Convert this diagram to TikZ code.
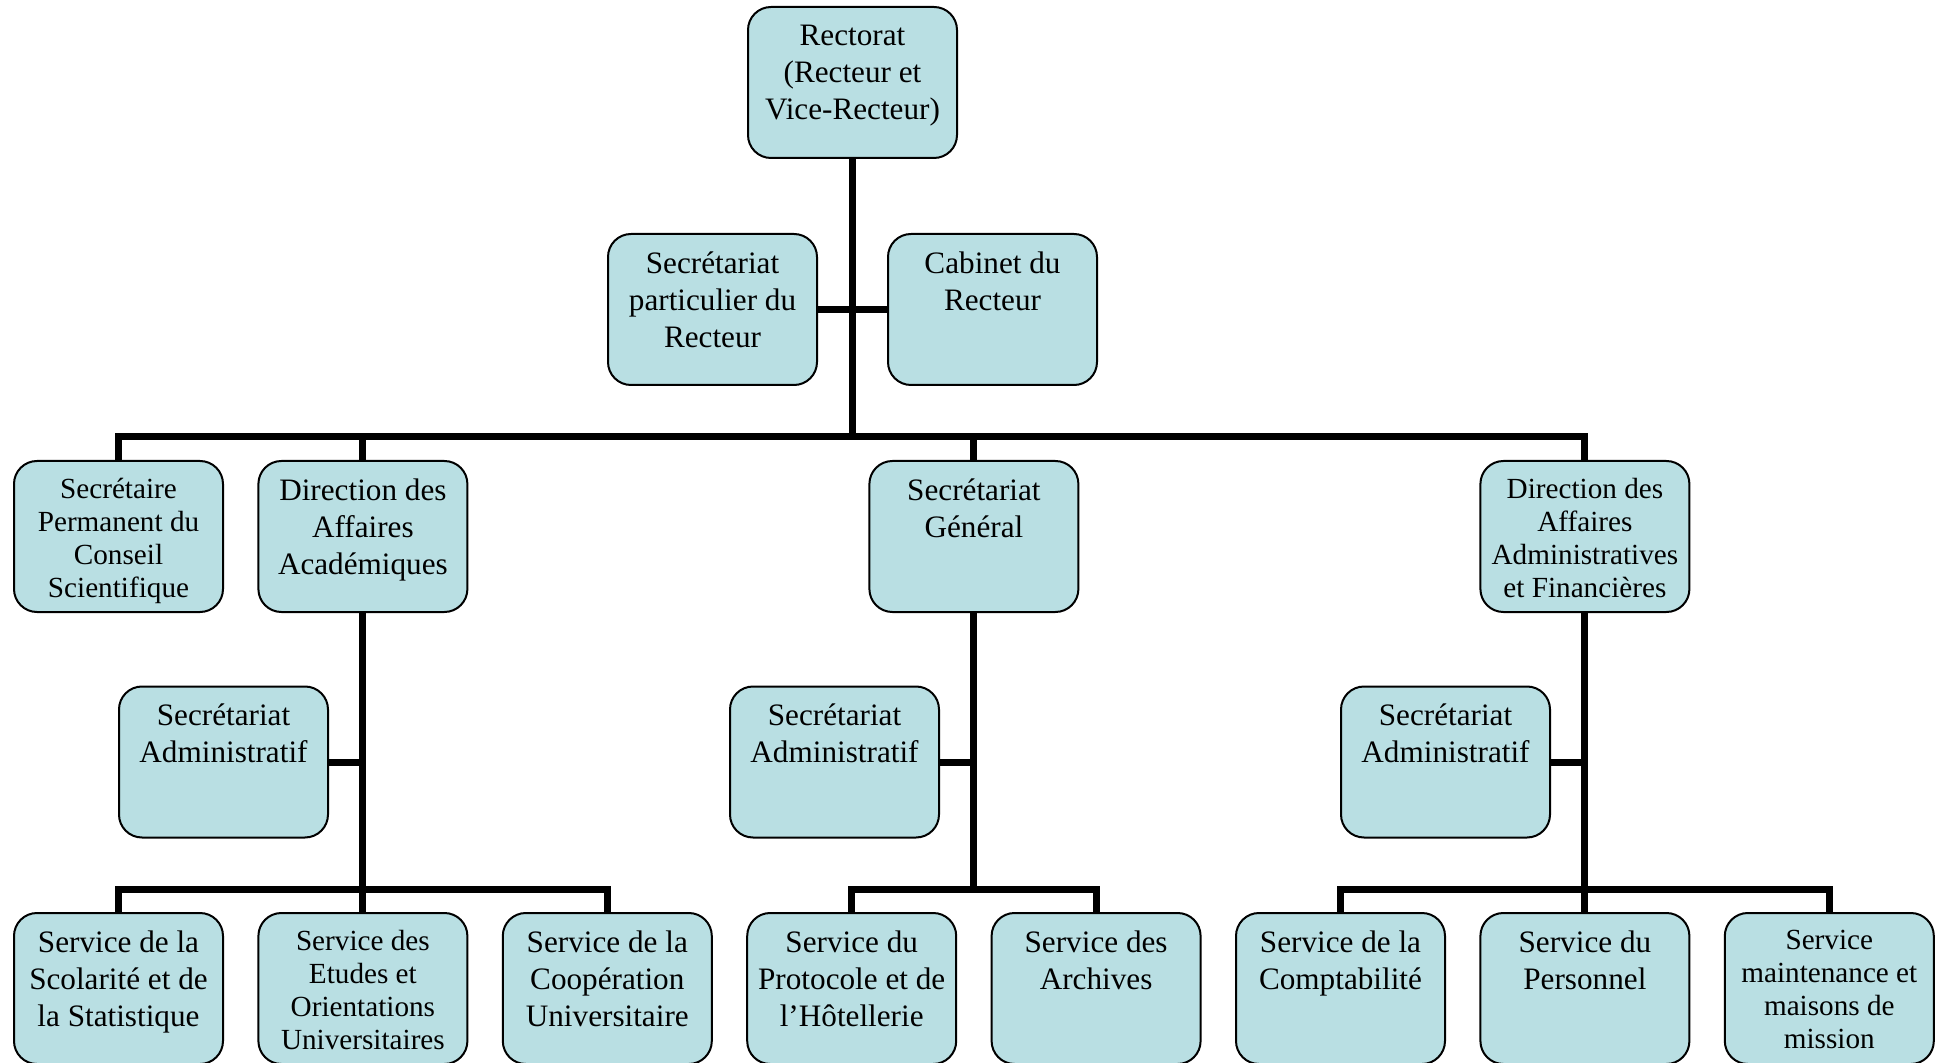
\documentclass[tikz,border=0pt]{standalone}
\usepackage{fontspec}
\setmainfont{Liberation Serif}
\usepackage{tikz}
\usetikzlibrary{positioning}
\definecolor{boxblue}{RGB}{185,223,227}

\begin{document}
\begin{tikzpicture}
    [
      x=0.5pt, y=-0.5pt,
      Unit/.style={rectangle, rounded corners=11.5pt, draw=black, fill=boxblue, line width=1pt, minimum width=104.5pt, minimum height=75.5pt, inner sep=0pt},
      Big/.style={align=center, inner sep=0pt, font=\fontsize{15.6}{18.5}\selectfont, execute at begin node=\strut},
      Small/.style={align=center, inner sep=0pt, font=\fontsize{14.6}{16.5}\selectfont, execute at begin node=\strut},
      Link/.style={draw=black, line width=3.5pt},
    ]
    \useasboundingbox (0,0) rectangle (1937,1063);

    % Boxes
    \node[Unit] (rect) at (852.5, 82.5) {};
    \node[Unit] (secp) at (712.5, 309.5) {};
    \node[Unit] (cab) at (992.5, 309.5) {};

    \node[Unit] (perm) at (118.5, 536.5) {};
    \node[Unit] (daa) at (362.9, 536.5) {};
    \node[Unit] (sg) at (973.9, 536.5) {};
    \node[Unit] (daaf) at (1584.9, 536.5) {};

    \node[Unit] (adm1) at (223.5, 762) {};
    \node[Unit] (adm2) at (834.5, 762) {};
    \node[Unit] (adm3) at (1445.5, 762) {};

    \node[Unit] (sco) at (118.5, 988.5) {};
    \node[Unit] (etu) at (362.9, 988.5) {};
    \node[Unit] (coop) at (607.3, 988.5) {};
    \node[Unit] (proto) at (851.7, 988.5) {};
    \node[Unit] (arch) at (1096.1, 988.5) {};
    \node[Unit] (compta) at (1340.5, 988.5) {};
    \node[Unit] (pers) at (1584.9, 988.5) {};
    \node[Unit] (maint) at (1829.3, 988.5) {};

    % Texts
    \node[Big, below=9.1pt of rect.north] (rect-t) {Rectorat\\(Recteur et\\Vice-Recteur)};
    \node[Big, below=9.1pt of secp.north] (secp-t) {Secrétariat\\particulier du\\Recteur};
    \node[Big, below=9.1pt of cab.north] (cab-t) {Cabinet du\\Recteur};

    \node[Small, below=9pt of perm.north] (perm-t) {Secrétaire\\Permanent du\\Conseil\\Scientifique};
    \node[Big, below=9.1pt of daa.north] (daa-t) {Direction des\\Affaires\\Académiques};
    \node[Big, below=9.1pt of sg.north] (sg-t) {Secrétariat\\Général};
    \node[Small, below=9pt of daaf.north] (daaf-t) {Direction des\\Affaires\\Administratives\\et Financières};

    \node[Big, below=9.1pt of adm1.north] (adm1-t) {Secrétariat\\Administratif};
    \node[Big, below=9.1pt of adm2.north] (adm2-t) {Secrétariat\\Administratif};
    \node[Big, below=9.1pt of adm3.north] (adm3-t) {Secrétariat\\Administratif};

    \node[Big, below=9.1pt of sco.north] (sco-t) {Service de la\\Scolarité et de\\la Statistique};
    \node[Small, below=9pt of etu.north] (etu-t) {Service des\\Etudes et\\Orientations\\Universitaires};
    \node[Big, below=9.1pt of coop.north] (coop-t) {Service de la\\Coopération\\Universitaire};
    \node[Big, below=9.1pt of proto.north] (proto-t) {Service du\\Protocole et de\\l’Hôtellerie};
    \node[Big, below=9.1pt of arch.north] (arch-t) {Service des\\Archives};
    \node[Big, below=9.1pt of compta.north] (compta-t) {Service de la\\Comptabilité};
    \node[Big, below=9.1pt of pers.north] (pers-t) {Service du\\Personnel};
    \node[Small, below=9pt of maint.north] (maint-t) {Service\\maintenance et\\maisons de\\mission};

    % Forks
    \coordinate (fork-top) at (852.5, 437);
    \coordinate (fork-daa) at (362.9, 889);
    \coordinate (fork-sg) at (973.9, 889);
    \coordinate (fork-daaf) at (1584.9, 889);

    % Lines
      \path[Link] (rect.south) -- (fork-top);
      \path[Link] (secp.east) -- (cab.west);
      \path[Link] (perm.north) |- (fork-top) -| (daaf.north);
      \path[Link] (daa.north) -- (daa.north |- fork-top);
      \path[Link] (sg.north) -- (sg.north |- fork-top);

      \path[Link] (daa.south) -- (etu.north);
      \path[Link] (adm1.east) -- (adm1.east -| daa.south);
      \path[Link] (sco.north) |- (fork-daa) -| (coop.north);

      \path[Link] (sg.south) -- (fork-sg);
      \path[Link] (adm2.east) -- (adm2.east -| sg.south);
      \path[Link] (proto.north) |- (fork-sg) -| (arch.north);

      \path[Link] (daaf.south) -- (pers.north);
      \path[Link] (adm3.east) -- (adm3.east -| daaf.south);
      \path[Link] (compta.north) |- (fork-daaf) -| (maint.north);

  \end{tikzpicture}
\end{document}
